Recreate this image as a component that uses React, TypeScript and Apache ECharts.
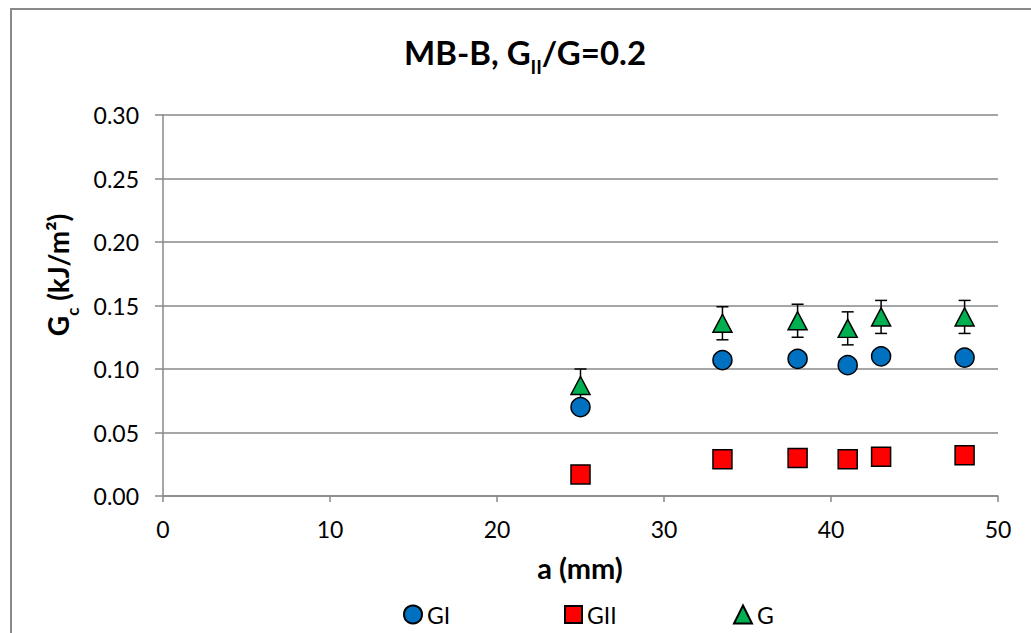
import React, { useEffect, useRef } from "react";
import * as echarts from "echarts";

const crackLength = [25, 33.5, 38, 41, 43, 48];
const giValues = [0.07, 0.107, 0.108, 0.103, 0.11, 0.109];
const giiValues = [0.017, 0.029, 0.03, 0.029, 0.031, 0.032];
const gValues = [0.087, 0.136, 0.138, 0.132, 0.141, 0.141];
const gErrors = [0.013, 0.013, 0.013, 0.013, 0.013, 0.013];
const seriesNames = ["GI", "GII", "G"];

const FONT = "Lato, 'Noto Sans', sans-serif";
const GRAY = "#898989";

export default function App() {
  const ref = useRef<HTMLDivElement>(null);
  useEffect(() => {
    if (!ref.current) return;
    const chart = echarts.init(ref.current, null, { renderer: "svg" });
    const marker = { borderColor: "#000", borderWidth: 1.5, opacity: 1 };
    const legendText = { fontFamily: FONT, fontSize: 23, color: "#000" };
    const option: any = {
      animation: false,
      backgroundColor: "#fff",
      grid: { left: 163, right: 33, top: 115, bottom: 137, containLabel: false },
      xAxis: {
        type: "value",
        min: 0,
        max: 50,
        interval: 10,
        axisLine: { show: true, lineStyle: { color: GRAY, width: 1.5 } },
        axisTick: { show: true, length: 6, lineStyle: { color: GRAY, width: 1.5 } },
        splitLine: { show: false },
        axisLabel: { fontFamily: FONT, fontSize: 23, color: "#000", margin: 21 },
      },
      yAxis: {
        type: "value",
        min: 0,
        max: 0.3,
        interval: 0.05,
        axisLine: { show: true, lineStyle: { color: GRAY, width: 1.5 } },
        axisTick: { show: true, length: 8, lineStyle: { color: GRAY, width: 1.5 } },
        splitLine: { show: true, lineStyle: { color: GRAY, width: 1.5 } },
        axisLabel: {
          fontFamily: FONT,
          fontSize: 23,
          color: "#000",
          margin: 24,
          formatter: (v: number) => v.toFixed(2),
        },
      },
      legend: [
        {
          data: [{ name: seriesNames[0], icon: "circle" }],
          left: 398,
          top: 598,
          itemWidth: 18,
          itemHeight: 18,
          textStyle: legendText,
        },
        {
          data: [{ name: seriesNames[1], icon: "rect" }],
          left: 559,
          top: 598,
          itemWidth: 17,
          itemHeight: 17,
          textStyle: legendText,
        },
        {
          data: [{ name: seriesNames[2], icon: "triangle" }],
          left: 728,
          top: 598,
          itemWidth: 18,
          itemHeight: 18,
          textStyle: legendText,
        },
      ],
      graphic: [
        {
          type: "rect",
          shape: { x: 11, y: 9, width: 1200, height: 800 },
          style: { fill: "none", stroke: GRAY, lineWidth: 2 },
          silent: true,
        },
        {
          type: "text",
          x: 525,
          y: 52,
          style: {
            text: "{m|MB-B, G}{s|II}{m|/G=0.2}",
            align: "center",
            verticalAlign: "middle",
            rich: {
              m: { fontFamily: FONT, fontSize: 33, fontWeight: "bold", lineHeight: 34, verticalAlign: "top", fill: "#000" },
              s: { fontFamily: FONT, fontSize: 19, fontWeight: "bold", lineHeight: 19, padding: [22, 0, 0, 0], verticalAlign: "top", fill: "#000" },
            },
          },
        },
        {
          type: "text",
          x: 58,
          y: 275,
          rotation: Math.PI / 2,
          style: {
            text: "{m|G}{s|c}{m| (kJ/m²)}",
            align: "center",
            verticalAlign: "middle",
            rich: {
              m: { fontFamily: FONT, fontSize: 28, fontWeight: "bold", lineHeight: 29, verticalAlign: "top", fill: "#000" },
              s: { fontFamily: FONT, fontSize: 17, fontWeight: "bold", lineHeight: 17, padding: [20, 0, 0, 0], verticalAlign: "top", fill: "#000" },
            },
          },
        },
        {
          type: "text",
          x: 580,
          y: 567,
          style: {
            text: "a (mm)",
            align: "center",
            verticalAlign: "middle",
            fontFamily: FONT,
            fontSize: 29,
            fontWeight: "bold",
            fill: "#000",
          },
        },
      ],
      series: [
        {
          type: "custom",
          name: "Gerr",
          z: 1,
          silent: true,
          renderItem: (params: any, api: any) => {
            const x = api.value(0);
            const y = api.value(1);
            const e = api.value(2);
            const top = api.coord([x, y + e]);
            const bot = api.coord([x, y - e]);
            const hw = 6;
            const st = { stroke: "#000", lineWidth: 1.5 };
            return {
              type: "group",
              children: [
                { type: "line", shape: { x1: top[0], y1: top[1], x2: bot[0], y2: bot[1] }, style: st },
                { type: "line", shape: { x1: top[0] - hw, y1: top[1], x2: top[0] + hw, y2: top[1] }, style: st },
                { type: "line", shape: { x1: bot[0] - hw, y1: bot[1], x2: bot[0] + hw, y2: bot[1] }, style: st },
              ],
            };
          },
          encode: { x: 0, y: 1 },
          data: crackLength.map((x, i) => [x, gValues[i], gErrors[i]]),
        },
        {
          type: "scatter",
          name: seriesNames[0],
          z: 3,
          symbol: "circle",
          symbolSize: 19,
          itemStyle: { color: "#0070C0", ...marker },
          data: crackLength.map((x, i) => [x, giValues[i]]),
        },
        {
          type: "scatter",
          name: seriesNames[1],
          z: 3,
          symbol: "rect",
          symbolSize: 19,
          itemStyle: { color: "#FF0000", ...marker },
          data: crackLength.map((x, i) => [x, giiValues[i]]),
        },
        {
          type: "scatter",
          name: seriesNames[2],
          z: 3,
          symbol: "triangle",
          symbolSize: [19, 18],
          itemStyle: { color: "#00B050", ...marker },
          data: crackLength.map((x, i) => [x, gValues[i]]),
        },
      ],
    };
    chart.setOption(option);
    return () => chart.dispose();
  }, []);
  return (
    <div
      ref={ref}
      style={{ position: "fixed", left: 0, top: 0, width: 1031, height: 633, background: "#fff" }}
    />
  );
}
